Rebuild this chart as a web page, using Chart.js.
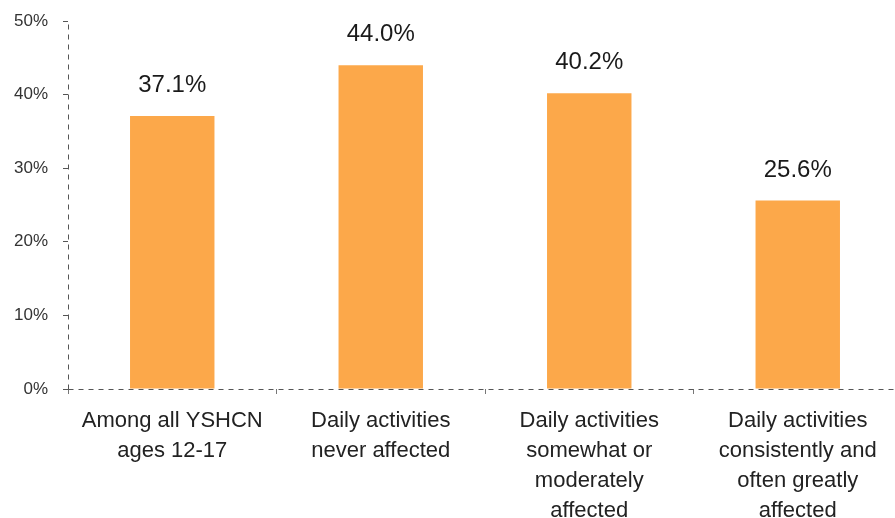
<html>
<head>
<title>YSHCN daily activities</title>
<style>
    html, body { margin: 0; padding: 0; overflow: hidden; background: #fff; }
    #wrap { width: 902px; height: 518px; }
</style>
</head>
<body>
<script src="https://cdn.jsdelivr.net/npm/chart.js@4.4.1/dist/chart.umd.min.js"></script>
<div id="wrap"><canvas id="myChart"></canvas></div>
<script>

const CATEGORIES = [
    ["Among all YSHCN", "ages 12-17"],
    ["Daily activities", "never affected"],
    ["Daily activities", "somewhat or", "moderately", "affected"],
    ["Daily activities", "consistently and", "often greatly", "affected"]
];
const VALUES = [37.1, 44.0, 40.2, 25.6];
const Y_TICKS = [0, 10, 20, 30, 40, 50];

const FONT = "'Liberation Sans', Arial, sans-serif";
const AXIS_COLOR = "#555";

// value text above each bar
var valueLabels = {
    id: "valueLabels",
    afterDatasetsDraw: function(chart){
        let ctx = chart.ctx;
        let meta = chart.getDatasetMeta(0);
        ctx.save();
        ctx.font = "24px " + FONT;
        ctx.fillStyle = "#1a1a1a";
        ctx.textAlign = "center";
        ctx.textBaseline = "alphabetic";
        meta.data.forEach(function(bar, i){
            ctx.fillText(VALUES[i].toFixed(1) + "%", bar.x, bar.y - 24);
        });
        ctx.restore();
    }
};

// dashed axis lines, drawn over the bars
var dashedAxes = {
    id: "dashedAxes",
    afterDatasetsDraw: function(chart){
        let ctx = chart.ctx;
        let a = chart.chartArea;
        let x0 = Math.round(a.left) + 0.5;
        let y0 = Math.round(a.bottom) + 0.5;
        ctx.save();
        ctx.strokeStyle = AXIS_COLOR;
        ctx.lineWidth = 1;
        ctx.setLineDash([5, 5]);
        ctx.beginPath();
        ctx.moveTo(x0, y0);
        ctx.lineTo(x0, a.top);
        ctx.stroke();
        ctx.beginPath();
        ctx.moveTo(x0, y0);
        ctx.lineTo(chart.width, y0);
        ctx.stroke();
        ctx.restore();
    }
};

new Chart("myChart", {
    type: "bar",
    data: {
        labels: CATEGORIES,
        datasets: [{
            data: VALUES,
            backgroundColor: "#fca84a",
            borderWidth: 0,
            categoryPercentage: 0.405,
            barPercentage: 1.0
        }]
    },
    options: {
        responsive: true,
        maintainAspectRatio: false,
        animation: false,
        layout: { padding: { top: 21, right: 0, left: 0, bottom: 0 } },
        plugins: {
            legend: { display: false },
            tooltip: { enabled: false }
        },
        scales: {
            x: {
                offset: true,
                grid: {
                    offset: true,
                    drawOnChartArea: false,
                    drawTicks: true,
                    tickLength: 5,
                    color: "#777"
                },
                border: { display: false },
                ticks: {
                    color: "#222",
                    font: { family: FONT, size: 22, lineHeight: 1.36 },
                    maxRotation: 0,
                    padding: 12
                },
                afterFit: function(scale){ scale.height = 129; }
            },
            y: {
                min: 0,
                max: 50,
                afterBuildTicks: function(scale){
                    scale.ticks = Y_TICKS.map(function(v){ return { value: v }; });
                },
                grid: {
                    drawOnChartArea: false,
                    drawTicks: true,
                    tickLength: 5,
                    color: AXIS_COLOR
                },
                border: { display: false },
                ticks: {
                    color: "#333",
                    font: { family: FONT, size: 17 },
                    padding: 15,
                    callback: function(v){ return v + "%"; }
                },
                afterFit: function(scale){
                    scale.width = 68;
                    // label padding would otherwise push the top of the axis down
                    scale.paddingTop = 10;
                    scale.paddingBottom = 10;
                }
            }
        }
    },
    plugins: [valueLabels, dashedAxes]
});

</script>
</body>
</html>
